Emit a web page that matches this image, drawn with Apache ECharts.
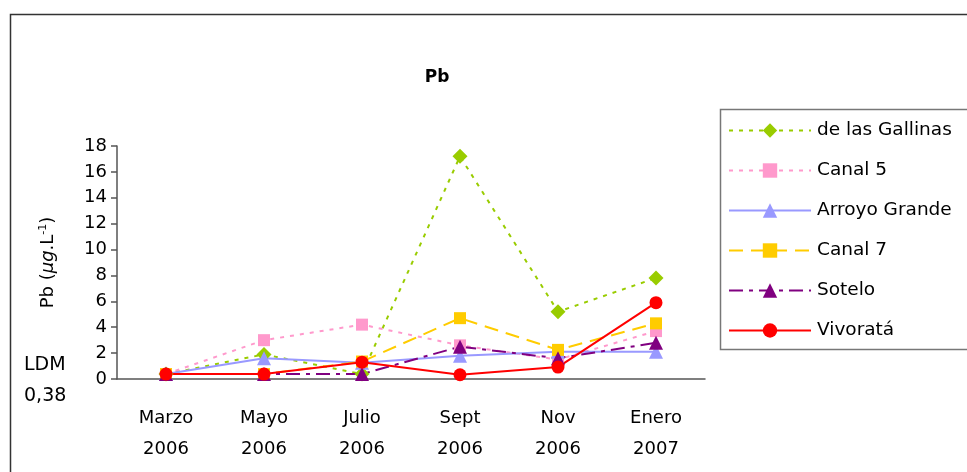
<!DOCTYPE html>
<html>
<head>
<meta charset="utf-8">
<script src="https://cdn.jsdelivr.net/npm/echarts@6/dist/echarts.min.js"></script>
<style>
  html, body { margin: 0; padding: 0; background: #fff; }
  #chart { width: 967px; height: 472px; }
</style>
</head>
<body>
<div id="chart"></div>
<script>
// Sampling campaigns
const categories = ['Marzo\n2006', 'Mayo\n2006', 'Julio\n2006', 'Sept\n2006', 'Nov\n2006', 'Enero\n2007'];
const yTicks = [0, 2, 4, 6, 8, 10, 12, 14, 16, 18];

// Pb concentration per site (µg/L); values below detection plotted at LDM 0.38
const gallinas = [0.38, 1.9, 0.38, 17.2, 5.2, 7.8];
const canal5 = [0.38, 3.0, 4.2, 2.6, 1.5, 3.7];
const arroyoGrande = [0.38, 1.6, 1.25, 1.8, 2.1, 2.1];
const canal7 = [0.38, 0.38, 1.35, 4.7, 2.25, 4.3];
const sotelo = [0.38, 0.38, 0.38, 2.5, 1.6, 2.8];
const vivorata = [0.38, 0.38, 1.3, 0.33, 0.92, 5.9];

const font = 'DejaVu Sans';

function series(name, data, color, symbol, size, lineType) {
  return {
    name, type: 'line', data,
    symbol, symbolSize: size,
    itemStyle: { color },
    lineStyle: { color, width: 2, type: lineType },
    emphasis: { disabled: true },
    animation: false
  };
}

const chart = echarts.init(document.getElementById('chart'));
chart.setOption({
  backgroundColor: '#fff',
  animation: false,
  title: {
    text: 'Pb', left: 432, top: 64, textAlign: 'center',
    textStyle: { fontFamily: font, fontSize: 17, fontWeight: 'bold', color: '#000' }
  },
  grid: { left: 117, right: 262, top: 146, bottom: 93 },
  legend: {
    orient: 'vertical', left: 728, top: 121, padding: 0,
    itemWidth: 82, itemHeight: 18, itemGap: 21,
    textStyle: { fontFamily: font, fontSize: 18.5, color: '#000', padding: [0, 0, 0, 1] },
    selectedMode: false
  },
  xAxis: {
    type: 'category', data: categories,
    axisLine: { lineStyle: { color: '#555', width: 1.5 } },
    axisTick: { length: 6, lineStyle: { color: '#555', width: 1.5 } },
    axisLabel: { fontFamily: font, fontSize: 18, color: '#000', lineHeight: 31, margin: 24 }
  },
  yAxis: {
    type: 'value', min: 0, max: 18, interval: 2,
    name: '{a|Pb (}{i|µg}{a|.L}{s|-1}{a|)}',
    nameLocation: 'middle', nameRotate: 90, nameGap: 58,
    nameTextStyle: {
      rich: {
        a: { fontFamily: font, fontSize: 18, color: '#000' },
        i: { fontFamily: font, fontSize: 18, color: '#000', fontStyle: 'italic' },
        s: { fontFamily: font, fontSize: 11, color: '#000', verticalAlign: 'top', padding: [0, 0, 10, 0] }
      }
    },
    splitLine: { show: false },
    axisLine: { show: true, lineStyle: { color: '#555', width: 1.5 } },
    axisTick: { show: true, length: 6, lineStyle: { color: '#555', width: 1.5 } },
    axisLabel: { fontFamily: font, fontSize: 18, color: '#000', margin: 10,
      formatter: v => (yTicks.indexOf(v) >= 0 ? String(v) : '') }
  },
  graphic: [
    { type: 'rect', left: 8, top: 12, shape: { width: 980, height: 480 },
      style: { fill: 'none', stroke: '#333', lineWidth: 1.5 }, silent: true, z: -1 },
    { type: 'rect', left: 718, top: 107, shape: { width: 270, height: 240 },
      style: { fill: 'none', stroke: '#777', lineWidth: 1.5 }, silent: true, z: -1 },
    { type: 'text', left: 24, top: 356,
      style: { text: 'LDM', fontFamily: font, fontSize: 19, fill: '#000' } },
    { type: 'text', left: 24, top: 387,
      style: { text: '0,38', fontFamily: font, fontSize: 19, fill: '#000' } }
  ],
  series: [
    series('de las Gallinas', gallinas, '#99CC00', 'diamond', 15, [4, 6]),
    series('Canal 5', canal5, '#FF99CC', 'rect', 12, [4, 6]),
    series('Arroyo Grande', arroyoGrande, '#9999FF', 'triangle', 14, 'solid'),
    series('Canal 7', canal7, '#FFCC00', 'rect', 12, [14, 8]),
    series('Sotelo', sotelo, '#800080', 'triangle', 14, [14, 6, 4, 6]),
    series('Vivoratá', vivorata, '#FF0000', 'circle', 13, 'solid')
  ]
});
</script>
</body>
</html>
